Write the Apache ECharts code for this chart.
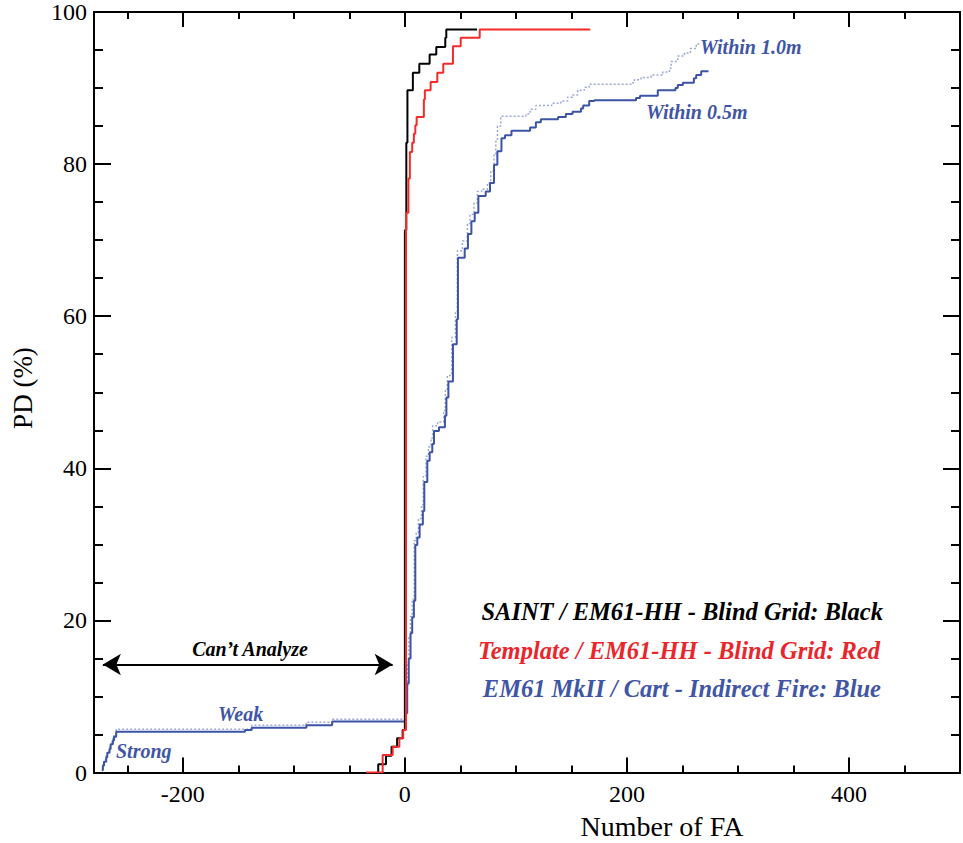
<!DOCTYPE html>
<html>
<head>
<meta charset="utf-8">
<script src="https://cdn.jsdelivr.net/npm/echarts@6/dist/echarts.min.js"></script>
<style>
html,body{margin:0;padding:0;background:#fff;}
#chart{width:963px;height:843px;}
</style>
</head>
<body>
<div id="chart"></div>
<script>
// ---- data ----
const xMajorTicks = [-200, 0, 200, 400];
const xMinorTicks = [-250, -150, -100, -50, 50, 100, 150, 250, 300, 350, 450];

// SAINT / EM61-HH - Blind Grid (black)  [FA count, PD%]
const blackPts = [[-25,0],[-24,1.1],[-17,2.2],[-12,3.4],[-7,4.5],[-2,5.6],[0,71.3],[1.3,82.8],[2.3,89.7],[7.2,92.0],[13,93.2],[22.3,94.4],[28.3,95.4],[36.4,96.6],[37.3,97.7],[65,97.7]];

// Template / EM61-HH - Blind Grid (red)
const redPts = [[-35,0],[-20,2.3],[-11,3.4],[-5,4.5],[-1.5,5.6],[1,73.6],[3.2,78.1],[4.5,81.6],[6.6,82.8],[8.1,84.0],[9.4,85.1],[10.6,86.2],[17.1,88.5],[18,89.7],[23.2,90.8],[29.2,92.0],[34.6,93.2],[43.3,95.5],[50.3,96.6],[67.4,97.7],[167,97.7]];

// EM61 MkII / Cart - Indirect Fire, within 0.5m (blue solid)
const blue05Pts = [[-273,0.3],[-272,0.9],[-271,1.4],[-269,2.0],[-268,2.6],[-266,3.1],[-265,3.7],[-263,4.2],[-262,4.7],[-260,5.35],[-144,5.6],[-138,5.9],[-88.7,6.2],[-65.5,6.7],[0,6.7],[0.3,7.8],[2.1,11.7],[3.5,15.0],[5.1,18.3],[6.6,20.4],[8.1,22.6],[9.4,29.9],[11.2,30.9],[13.3,32.6],[16.2,34.4],[17.5,38.2],[20.2,41.0],[22.3,42.1],[24.7,43.2],[26.2,44.9],[30.7,45.4],[36.1,46.9],[37.4,49.3],[39.2,51.4],[43.3,56.3],[46.7,59.6],[47.8,67.7],[53.9,68.9],[56.8,70.8],[59.9,72.5],[62.9,73.6],[66.2,75.8],[72.8,76.4],[76.7,77.5],[80.3,79.9],[83.3,81.7],[87,83.4],[90.2,83.8],[96,84.4],[112.8,84.8],[118,85.5],[122.5,85.9],[138,86.2],[145,86.6],[151,86.9],[158.6,87.3],[160.6,87.7],[166,88.3],[170.6,88.4],[208.2,88.7],[211.8,89.0],[227.8,89.7],[243.7,90.0],[245.8,90.4],[250.4,90.7],[260.3,91.3],[262.4,91.7],[266.9,92.2],[273.5,92.2]];

// within 1.0m (blue dotted)
const blue10Pts = [[-273,0.5],[-272,1.1],[-271,1.7],[-269,2.3],[-268,2.8],[-266,3.4],[-265,4.0],[-263,4.5],[-262,5.0],[-260,5.7],[-138,6.2],[-89,6.6],[-65,7.0],[0,7.0],[0.3,8.5],[1.5,11.0],[2.5,14.5],[3.5,17.8],[5,20.5],[6.6,22.8],[8.4,30.5],[10.2,31.5],[12.2,33.4],[15,35.2],[16.5,38.9],[19,41.6],[21.2,42.8],[23.5,44.0],[25,45.6],[29.5,46.1],[35,47.6],[36.4,50.2],[38.2,52.2],[42.2,57.2],[45.6,60.5],[47.3,68.6],[51.8,69.9],[56.3,72.2],[58.7,73.4],[62.3,74.9],[65.3,76.4],[69.2,76.7],[74.4,77.5],[77.3,79.1],[80.3,81.3],[81.9,83.0],[83.4,85.0],[86.4,86.3],[109,86.6],[112.8,87.2],[118,87.7],[132.4,88.0],[140.5,88.3],[146.6,88.8],[151,89.1],[155.6,89.7],[161.6,90.1],[166,90.5],[203.7,90.7],[206.7,91.1],[212.7,91.4],[221.7,91.7],[232.3,92.1],[238.3,92.6],[239.8,93.5],[245.8,94.2],[251.8,94.6],[257.2,95.2],[262.4,95.8],[265.3,95.8]];

// "Can't Analyze" arrow span
const cantAnalyze = [[-272, 14.2], [-11, 14.2]];

// ---- chart ----
const FONT = "'Liberation Serif', 'Times New Roman', serif";
const BLUE = '#3d54a6';
const BLUE_LIGHT = '#9aa8d8';
const RED = '#f52a2a';
const TEXT_RED = '#e8262c';
const TEXT_BLUE = '#3f55a6';

const chart = echarts.init(document.getElementById('chart'), null, {renderer: 'svg'});

function xAxisDef(position, ticks, len, labels) {
  return {
    type: 'value', gridIndex: 0, position: position, min: -280, max: 500,
    axisLine: {show: true, onZero: false, lineStyle: {color: '#000', width: 2}},
    axisTick: {show: true, inside: true, length: len, customValues: ticks, lineStyle: {color: '#000', width: 2}},
    axisLabel: labels ? {show: true, customValues: xMajorTicks, fontFamily: FONT, fontSize: 24, color: '#000', margin: 9} : {show: false},
    splitLine: {show: false}, minorTick: {show: false}
  };
}
function yAxisDef(position, labels) {
  return {
    type: 'value', gridIndex: 0, position: position, min: 0, max: 100, interval: 20,
    axisLine: {show: true, onZero: false, lineStyle: {color: '#000', width: 2}},
    axisTick: {show: true, inside: true, length: 17, lineStyle: {color: '#000', width: 2}},
    minorTick: {show: true, splitNumber: 4, length: 9, lineStyle: {color: '#000', width: 2}},
    axisLabel: labels ? {show: true, fontFamily: FONT, fontSize: 24, color: '#000', margin: 7} : {show: false},
    splitLine: {show: false}
  };
}

const stepLine = (name, data, color, width, type, z) => ({
  name, type: 'line', step: 'end', data, showSymbol: false, symbol: 'none',
  xAxisIndex: 0, yAxisIndex: 0, z: z,
  lineStyle: {color, width, type}, animation: false, silent: true
});

function txt(x, y, text, size, color, align, bi, rot) {
  const t = {
    type: 'text', x: x, y: y,
    style: {
      text: text, fontFamily: FONT, fontSize: size,
      fontStyle: bi ? 'italic' : 'normal', fontWeight: bi ? 'bold' : 'normal',
      fill: color, textAlign: align, textVerticalAlign: 'middle'
    }
  };
  if (rot) t.rotation = rot;
  return t;
}

const option = {
  animation: false,
  backgroundColor: '#fff',
  grid: {left: 94, right: 3, top: 10, bottom: 70.5, containLabel: false},
  xAxis: [
    xAxisDef('bottom', xMajorTicks, 15, true),
    xAxisDef('bottom', xMinorTicks, 7, false),
    xAxisDef('top', xMajorTicks, 15, false),
    xAxisDef('top', xMinorTicks, 7, false)
  ],
  yAxis: [yAxisDef('left', true), yAxisDef('right', false)],
  series: [
    stepLine('Within 1.0m', blue10Pts, BLUE_LIGHT, 1.5, [2, 2], 2),
    stepLine('Within 0.5m', blue05Pts, BLUE, 2, 'solid', 3),
    stepLine('SAINT / EM61-HH', blackPts, '#000', 2, 'solid', 4),
    Object.assign(stepLine('Template / EM61-HH', redPts, RED, 2, 'solid', 5), {
      markLine: {
        silent: true, symbol: ['arrow', 'arrow'], symbolSize: [16, 18],
        label: {show: false},
        lineStyle: {color: '#000', width: 2, type: 'solid'},
        data: [[{coord: cantAnalyze[0]}, {coord: cantAnalyze[1]}]]
      }
    })
  ],
  graphic: [
    txt(23, 388, 'PD (%)', 27, '#000', 'center', false, Math.PI / 2),
    txt(662, 826, 'Number of FA', 28, '#000', 'center', false),
    txt(700, 47, 'Within 1.0m', 20, TEXT_BLUE, 'left', true),
    txt(646, 112, 'Within 0.5m', 20, TEXT_BLUE, 'left', true),
    txt(116, 751, 'Strong', 20, TEXT_BLUE, 'left', true),
    txt(218, 714, 'Weak', 20, TEXT_BLUE, 'left', true),
    txt(250, 649, 'Can\u2019t Analyze', 20, '#000', 'center', true),
    txt(883, 611, 'SAINT / EM61-HH - Blind Grid: Black', 24.5, '#000', 'right', true),
    txt(880, 650, 'Template / EM61-HH - Blind Grid: Red', 24.5, TEXT_RED, 'right', true),
    txt(881, 688, 'EM61 MkII / Cart - Indirect Fire: Blue', 24.5, TEXT_BLUE, 'right', true)
  ]
};
chart.setOption(option);
</script>
</body>
</html>
